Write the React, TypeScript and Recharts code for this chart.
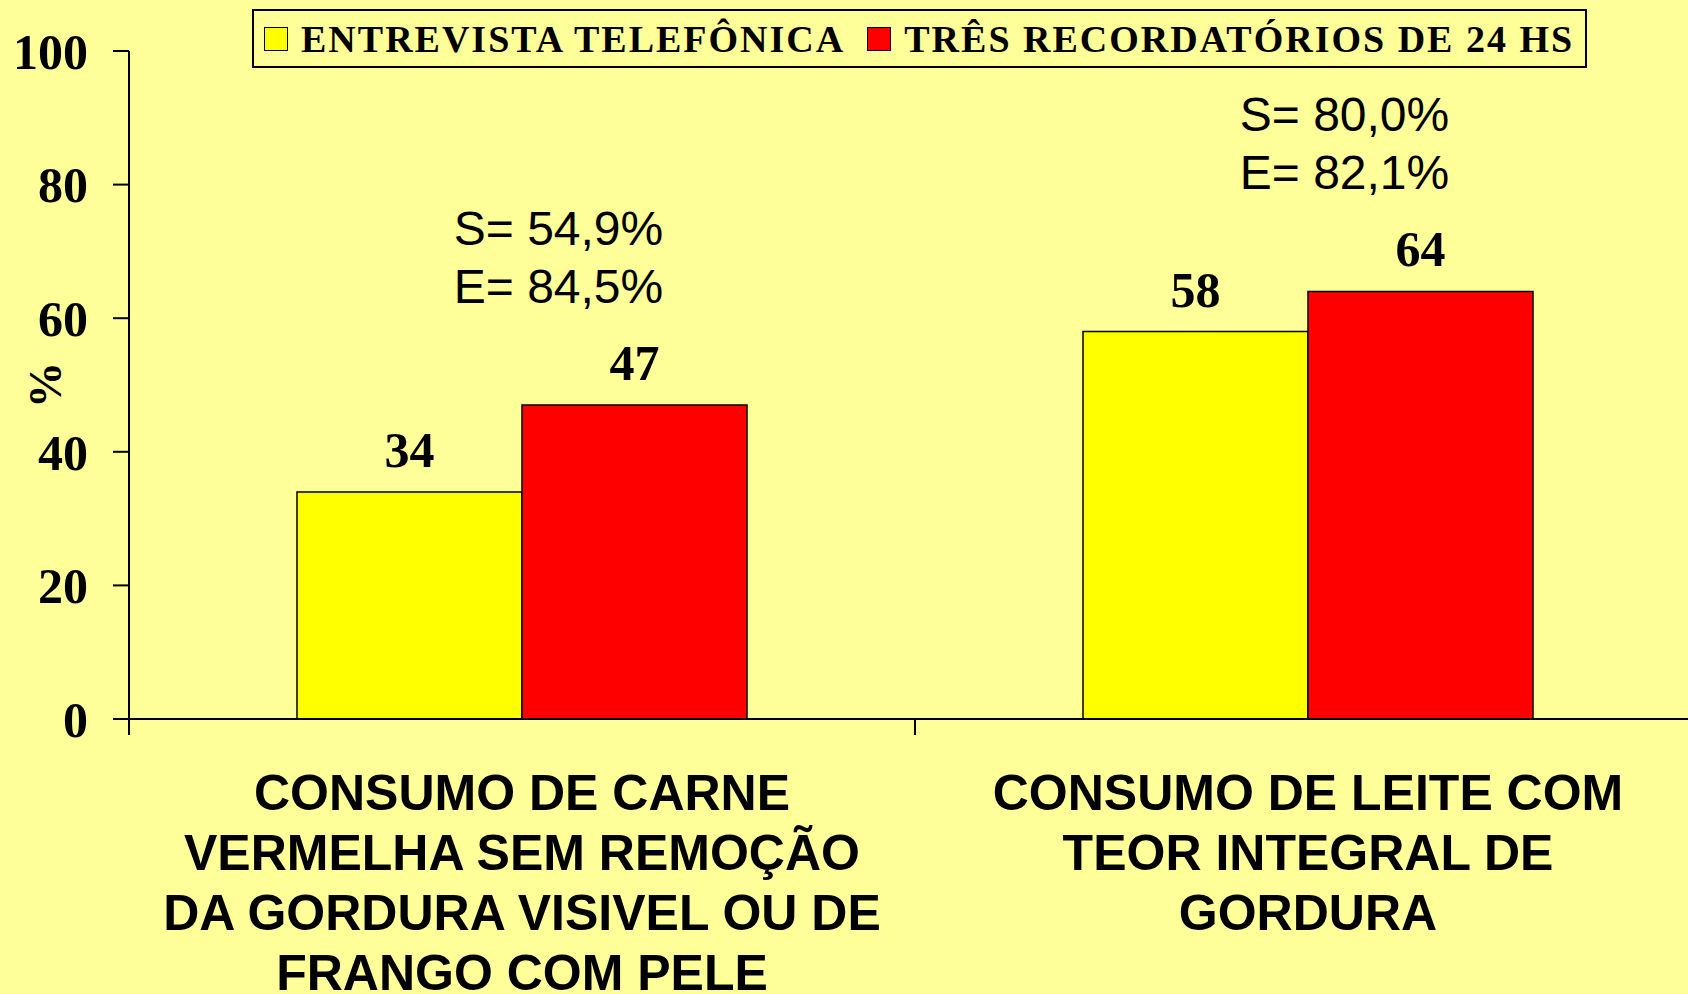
import { Bar, BarChart, Label, LabelList, XAxis, YAxis } from 'recharts'

const categories = [
  'CONSUMO DE CARNE VERMELHA SEM REMOÇÃO DA GORDURA VISIVEL OU DE FRANGO COM PELE',
  'CONSUMO DE LEITE COM TEOR INTEGRAL DE GORDURA',
]
const categoryLines = [
  ['CONSUMO DE CARNE', 'VERMELHA SEM REMOÇÃO', 'DA GORDURA VISIVEL OU DE', 'FRANGO COM PELE'],
  ['CONSUMO DE LEITE COM', 'TEOR INTEGRAL DE', 'GORDURA'],
]
const seriesNames = ['ENTREVISTA TELEFÔNICA', 'TRÊS RECORDATÓRIOS DE 24 HS']
const seriesColors = ['#FFFF00', '#FF0000']
const telefonica = [34, 58]
const recordatorios = [47, 64]
const sensibilidade = ['S= 54,9%', 'S= 80,0%']
const especificidade = ['E= 84,5%', 'E= 82,1%']
const yTicks = [0, 20, 40, 60, 80, 100]

const data = categories.map((name, i) => ({
  name,
  tel: telefonica[i],
  rec: recordatorios[i],
}))

const SERIF = '"Liberation Serif", "Times New Roman", serif'
const SANS = '"Liberation Sans", Arial, sans-serif'

function CategoryTick(props: any) {
  const { x, y, index, visibleTicksCount, width } = props
  const half = typeof width === 'number' && visibleTicksCount ? width / visibleTicksCount / 2 : 393
  const lines = categoryLines[index] || []
  return (
    <g>
      <line x1={x - half} x2={x - half} y1={y} y2={y + 16} stroke="#000" strokeWidth={2} />
      {index === visibleTicksCount - 1 && (
        <line x1={x + half} x2={x + half} y1={y} y2={y + 16} stroke="#000" strokeWidth={2} />
      )}
      {lines.map((line: string, i: number) => (
        <text
          key={i}
          x={x}
          y={y + 91 + i * 60}
          textAnchor="middle"
          fontFamily={SANS}
          fontWeight="bold"
          fontSize={50}
          fill="#000"
        >
          {line}
        </text>
      ))}
    </g>
  )
}

function StatsLabel(props: any) {
  const { x, y, width, index } = props
  const cx = x + width / 2 - 76
  const base = y - 102
  return (
    <g fontFamily={SANS} fontSize={48} fill="#000">
      <text x={cx} y={base - 58} textAnchor="middle">{sensibilidade[index]}</text>
      <text x={cx} y={base} textAnchor="middle">{especificidade[index]}</text>
    </g>
  )
}

export default function App() {
  return (
    <div
      style={{
        position: 'absolute',
        left: 0,
        top: 0,
        width: 1688,
        height: 994,
        overflow: 'hidden',
        background: '#FFFF99',
      }}
    >
      <BarChart
        width={1720}
        height={994}
        data={data}
        margin={{ top: 51, right: 19, left: 0, bottom: 0 }}
        barGap={0}
        barSize={225}
      >
        <XAxis
          dataKey="name"
          interval={0}
          height={275}
          tickSize={0}
          tickMargin={0}
          tickLine={false}
          axisLine={{ stroke: '#000', strokeWidth: 2 }}
          tick={<CategoryTick />}
        />
        <YAxis
          domain={[0, 100]}
          ticks={yTicks}
          width={129}
          tickSize={16}
          tickMargin={25}
          axisLine={{ stroke: '#000', strokeWidth: 2 }}
          tickLine={{ stroke: '#000', strokeWidth: 2 }}
          tick={{ fill: '#000', fontFamily: SERIF, fontWeight: 'bold', fontSize: 50 }}
        >
          <Label
            content={(p: any) => {
              const vb = p.viewBox || { x: 0, y: 51, width: 129, height: 668 }
              const cx = vb.x + 45
              const cy = vb.y + vb.height / 2
              return (
                <text
                  x={cx}
                  y={cy}
                  transform={`rotate(-90 ${cx} ${cy})`}
                  textAnchor="middle"
                  dominantBaseline="central"
                  fontFamily={SERIF}
                  fontWeight="bold"
                  fontSize={46}
                  fill="#000"
                >
                  %
                </text>
              )
            }}
          />
        </YAxis>
        <Bar dataKey="tel" name={seriesNames[0]} fill={seriesColors[0]} stroke="#000" strokeWidth={1.5} isAnimationActive={false}>
          <LabelList dataKey="tel" position="top" offset={25} fill="#000" fontFamily={SERIF} fontWeight="bold" fontSize={50} />
        </Bar>
        <Bar dataKey="rec" name={seriesNames[1]} fill={seriesColors[1]} stroke="#000" strokeWidth={1.5} isAnimationActive={false}>
          <LabelList dataKey="rec" position="top" offset={25} fill="#000" fontFamily={SERIF} fontWeight="bold" fontSize={50} />
          <LabelList dataKey="rec" content={<StatsLabel />} />
        </Bar>
      </BarChart>
      <div
        style={{
          position: 'absolute',
          left: 252,
          top: 9,
          width: 1335,
          height: 59,
          boxSizing: 'border-box',
          border: '2px solid #000',
          display: 'flex',
          alignItems: 'center',
          paddingLeft: 10,
          fontFamily: SERIF,
          fontWeight: 'bold',
          fontSize: 38,
          letterSpacing: 2,
          whiteSpace: 'nowrap',
          color: '#000',
        }}
      >
        {seriesNames.map((s, i) => (
          <div key={s} style={{ display: 'flex', alignItems: 'center', marginLeft: i === 0 ? 0 : 22 }}>
            <span
              style={{
                display: 'inline-block',
                width: 24,
                height: 24,
                boxSizing: 'border-box',
                border: '1.5px solid #000',
                background: seriesColors[i],
                marginRight: 13,
              }}
            />
            <span>{s}</span>
          </div>
        ))}
      </div>
    </div>
  )
}
